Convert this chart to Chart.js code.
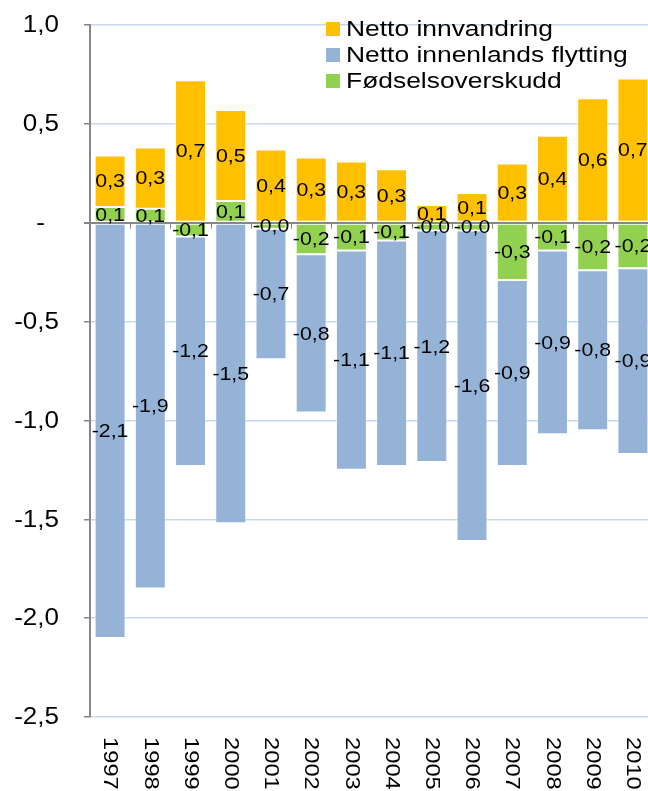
<!DOCTYPE html>
<html>
<head>
<meta charset="utf-8">
<script src="https://cdn.jsdelivr.net/npm/chart.js@4"></script>
<style>
  html, body { margin: 0; padding: 0; background: #fff; overflow: hidden; }
  #wrap { width: 656px; height: 791px; }
</style>
</head>
<body>
<div id="wrap"><canvas id="chart" width="656" height="791"></canvas></div>
<script>
const years = ['1997','1998','1999','2000','2001','2002','2003','2004','2005','2006','2007','2008','2009','2010'];
const innvandring = [0.26, 0.31, 0.72, 0.46, 0.37, 0.33, 0.31, 0.27, 0.09, 0.15, 0.30, 0.44, 0.63, 0.73];
const innenlands = [-2.10, -1.85, -1.16, -1.52, -0.66, -0.80, -1.11, -1.14, -1.17, -1.57, -0.94, -0.93, -0.81, -0.94];
const fodsel = [0.08, 0.07, -0.07, 0.11, -0.03, -0.16, -0.14, -0.09, -0.04, -0.04, -0.29, -0.14, -0.24, -0.23];
const yTicks = [1.0, 0.5, 0, -0.5, -1.0, -1.5, -2.0, -2.5];

const FONT = '"Liberation Sans", Arial, sans-serif';
const fmt = v => v.toFixed(1).replace('.', ',');

// the picture's text is a bit wider than plain Arial
function wideText(ctx, txt, x, y, sx, rot) {
  ctx.save();
  ctx.translate(x, y);
  if (rot) ctx.rotate(rot);
  ctx.scale(sx, 1);
  ctx.fillText(txt, 0, 0);
  ctx.restore();
}

// labels in the middle of every segment
const valueLabels = {
  id: 'valueLabels',
  afterDatasetsDraw(chart) {
    const ctx = chart.ctx;
    ctx.save();
    ctx.font = '19px ' + FONT;
    ctx.fillStyle = '#000';
    ctx.textAlign = 'center';
    ctx.textBaseline = 'middle';
    chart.data.datasets.forEach((ds, i) => {
      chart.getDatasetMeta(i).data.forEach((bar, j) => {
        const p = bar.getProps(['x', 'y', 'base'], true);
        wideText(ctx, fmt(ds.data[j]), p.x, (p.y + p.base) / 2 + 1, 1.12);
      });
    });
    ctx.restore();
  }
};

// y labels, zero line ticks, rotated year labels and the legend
const extras = {
  id: 'extras',
  afterDraw(chart) {
    const ctx = chart.ctx;
    const x = chart.scales.x, y = chart.scales.y;
    const y0 = y.getPixelForValue(0);
    ctx.save();
    ctx.strokeStyle = '#868686';
    ctx.lineWidth = 1;
    for (let i = 1; i < years.length; i++) {
      const px = Math.round((x.getPixelForTick(i - 1) + x.getPixelForTick(i)) / 2) + 0.5;
      ctx.beginPath();
      ctx.moveTo(px, y0);
      ctx.lineTo(px, y0 + 6);
      ctx.stroke();
    }

    ctx.fillStyle = '#000';
    ctx.textBaseline = 'middle';

    ctx.font = '23px ' + FONT;
    ctx.textAlign = 'right';
    yTicks.forEach(v => {
      const py = y.getPixelForValue(v) + 1;
      if (v === 0) wideText(ctx, '-', 45, py, 1.13);
      else wideText(ctx, fmt(v), 59, py, 1.13);
    });

    ctx.font = '21px ' + FONT;
    ctx.textAlign = 'left';
    years.forEach((yr, i) => {
      wideText(ctx, yr, x.getPixelForTick(i), chart.chartArea.bottom + 20, 1.13, Math.PI / 2);
    });

    const order = [1, 2, 0];
    const lx = 326, ly = [29, 55, 81];
    ctx.font = '22px ' + FONT;
    order.forEach((di, k) => {
      const ds = chart.data.datasets[di];
      ctx.fillStyle = ds.backgroundColor;
      ctx.fillRect(lx, ly[k] - 7, 14, 14);
      ctx.fillStyle = '#000';
      wideText(ctx, ds.label, lx + 20, ly[k] + 1, 1.2);
    });
    ctx.restore();
  }
};

new Chart(document.getElementById('chart'), {
  type: 'bar',
  data: {
    labels: years,
    datasets: [
      { label: 'Fødselsoverskudd', data: fodsel, backgroundColor: '#92D050' },
      { label: 'Netto innvandring', data: innvandring, backgroundColor: '#FFC000' },
      { label: 'Netto innenlands flytting', data: innenlands, backgroundColor: '#95B3D7' }
    ]
  },
  options: {
    responsive: false,
    animation: false,
    events: [],
    layout: { padding: { top: 25, bottom: 74, right: 3, left: 0 } },
    datasets: {
      bar: {
        barPercentage: 0.77,
        categoryPercentage: 1,
        borderWidth: 1,
        borderColor: 'rgba(255,255,255,0.45)',
        borderSkipped: false
      }
    },
    plugins: { legend: { display: false }, tooltip: { enabled: false } },
    scales: {
      x: {
        stacked: true,
        display: false
      },
      y: {
        stacked: true,
        min: -2.5,
        max: 1.0,
        afterFit(s) { s.width = 90; },
        afterBuildTicks(s) { s.ticks = yTicks.map(v => ({ value: v })); },
        ticks: { display: false },
        grid: {
          color: c => c.tick && c.tick.value === 0 ? '#868686' : '#C6D9F1',
          lineWidth: c => c.tick && c.tick.value === 0 ? 2 : 1.5,
          tickColor: '#868686',
          tickLength: 6
        },
        border: { color: '#868686', width: 2 }
      }
    }
  },
  plugins: [valueLabels, extras]
});
</script>
</body>
</html>
